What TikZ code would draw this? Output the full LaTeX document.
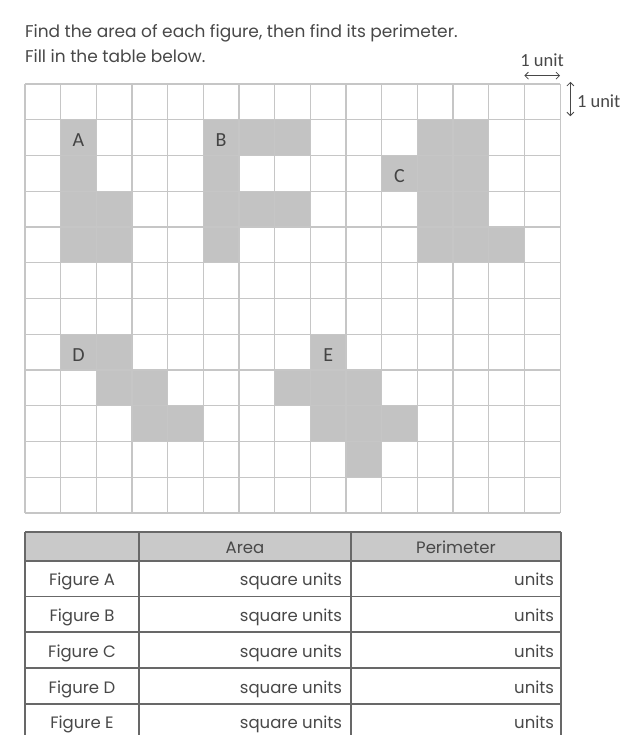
\documentclass[tikz,border=0pt]{standalone}
\usepackage{fontspec}
\setmainfont{Poppins}
\newfontfamily\calib{Carlito}
\usetikzlibrary{arrows.meta}
\definecolor{gridline}{HTML}{C6C6C6}
\definecolor{shadecell}{HTML}{C3C3C3}
\definecolor{ink}{HTML}{484848}
\definecolor{tabrule}{HTML}{686868}
\definecolor{headfill}{HTML}{C9C9C9}
\begin{document}
\begin{tikzpicture}[x=1pt,y=-1pt,
  every node/.style={inner sep=0pt, outer sep=0pt},
  instr/.style={anchor=base west, font=\fontsize{17}{20}\selectfont, text=ink},
  tabtxt/.style={anchor=base, font=\fontsize{16.5}{18}\selectfont, text=ink},
  figlab/.style={font=\calib\fontsize{20}{22}\selectfont, text=ink!95!black},
  unitlab/.style={font=\calib\fontsize{18.5}{20}\selectfont, text=ink},
  unitarrow/.style={{Straight Barb[length=3.5pt,width=7pt]}-{Straight Barb[length=3.5pt,width=7pt]}, line width=0.8pt, draw=ink}
]
\useasboundingbox (0,0) rectangle (636,735);
\fill[white] (0,0) rectangle (636,735);

\node[instr] (l1) at (25,37.7) {Find the area of each figure, then find its perimeter.};
\node[instr] (l2) at (25,62.7) {Fill in the table below.};

\begin{scope}[shift={(25,84)}, x=35.67pt, y=-35.75pt]
  \foreach \c/\r in {1/1,1/2,1/3,1/4,2/3,2/4,
                     5/1,5/2,5/3,5/4,6/1,7/1,6/3,7/3,
                     10/2,11/1,11/2,11/3,11/4,12/1,12/2,12/3,12/4,13/4,
                     1/7,2/7,2/8,3/8,3/9,4/9,
                     8/7,7/8,8/8,9/8,8/9,9/9,10/9,9/10}
    \fill[shadecell] (\c,\r) rectangle ++(1,1);
  \foreach \i in {0,...,15} \draw[gridline, line width=1.1pt] (\i,0) -- (\i,12);
  \foreach \j in {0,...,12} \draw[gridline, line width=1.1pt] (0,\j) -- (15,\j);
  \node[figlab] (labA) at (1.5,1.57) {A};
  \node[figlab] (labB) at (5.5,1.57) {B};
  \node[figlab] (labC) at (10.5,2.57) {C};
  \node[figlab] (labD) at (1.5,7.57) {D};
  \node[figlab] (labE) at (8.5,7.57) {E};
  \coordinate (ha) at (14.0,-0.235);
  \coordinate (hb) at (15.0,-0.235);
  \coordinate (va) at (15.29,-0.06);
  \coordinate (vb) at (15.29,0.90);
\end{scope}
\draw[unitarrow] (ha) -- (hb);
\node[unitlab, anchor=base] (hu) at (542,66.7) {1 unit};
\draw[unitarrow] (va) -- (vb);
\node[unitlab, anchor=west] (vu) at (577,101.5) {1 unit};

\fill[headfill] (25,532) rectangle (561,561);
\foreach \y in {532,561,596.5,632,668,704} \draw[tabrule, line width=1.3pt] (25,\y) -- (561,\y);
\foreach \x in {25,139,351,561} \draw[tabrule, line width=1.3pt] (\x,532) -- (\x,735);

\node[tabtxt] (hArea) at (245,553) {Area};
\node[tabtxt] (hPer) at (456,553) {Perimeter};
\foreach \L/\yb in {A/585.5,B/621,C/657,D/693,E/728.5} {
  \node[tabtxt] (fig\L) at (82,\yb) {Figure \L};
  \node[tabtxt, anchor=base east] (area\L) at (342,\yb) {square units};
  \node[tabtxt, anchor=base east] (per\L) at (554,\yb) {units};
}
\end{tikzpicture}
\end{document}
